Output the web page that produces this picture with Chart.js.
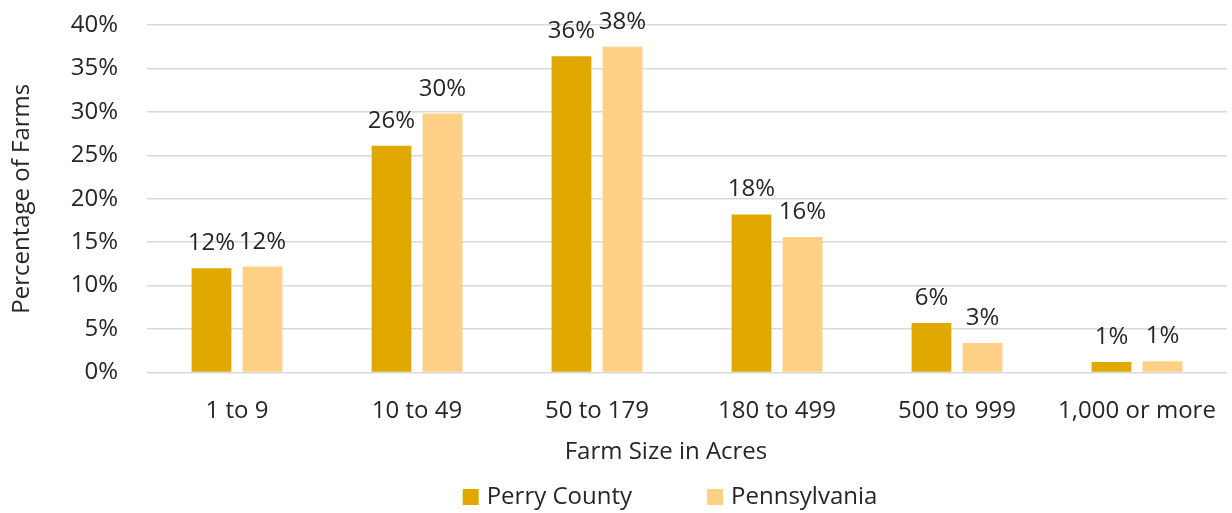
<!DOCTYPE html>
<html>
<head>
<meta charset="utf-8">
<script src="https://cdn.jsdelivr.net/npm/chart.js@4.4.0/dist/chart.umd.min.js"></script>
<style>
  html, body { margin: 0; padding: 0; background: #fff; }
  #wrap { width: 1232px; height: 513px; position: relative; }
</style>
</head>
<body>
<div id="wrap"><canvas id="farm_chart"></canvas></div>
<script>
var categories = ["1 to 9", "10 to 49", "50 to 179", "180 to 499", "500 to 999", "1,000 or more"];
var perryCounty = [12.0, 26.1, 36.4, 18.2, 5.7, 1.2];
var pennsylvania = [12.2, 29.8, 37.5, 15.6, 3.4, 1.3];
var seriesNames = ["Perry County", "Pennsylvania"];
var seriesColors = ["#E1A900", "#FED085"];
var xTitle = "Farm Size in Acres";
var yTitle = "Percentage of Farms";

var fontFamily = "'Open Sans', sans-serif";
var fontSize = 24;
var textColor = "#262626";

// percent labels above the bars
var barLabels = {
    id: "barLabels",
    afterDatasetsDraw: function (chart) {
        var ctx = chart.ctx;
        ctx.save();
        ctx.font = fontSize + "px " + fontFamily;
        ctx.fillStyle = textColor;
        ctx.textAlign = "center";
        ctx.textBaseline = "alphabetic";
        chart.data.datasets.forEach(function (ds, i) {
            chart.getDatasetMeta(i).data.forEach(function (bar, j) {
                ctx.fillText(Math.round(ds.data[j]) + "%", bar.x, bar.y - 18);
            });
        });
        ctx.restore();
    }
};

// x title + legend drawn below the axis (Excel puts them a bit left of plot center)
var bottomBlock = {
    id: "bottomBlock",
    afterDraw: function (chart) {
        var ctx = chart.ctx;
        ctx.save();
        ctx.font = fontSize + "px " + fontFamily;
        ctx.fillStyle = textColor;
        ctx.textAlign = "center";
        ctx.textBaseline = "middle";
        ctx.fillText(xTitle, 666, 452);

        var box = 16, gapText = 8, gapItem = 75;
        var widths = chart.data.datasets.map(function (ds) {
            return box + gapText + ctx.measureText(ds.label).width;
        });
        var total = widths.reduce(function (a, b) { return a + b; }, 0) + gapItem * (widths.length - 1);
        var x = 670 - total / 2;
        var y = 497;
        ctx.textAlign = "left";
        chart.data.datasets.forEach(function (ds, i) {
            ctx.fillStyle = ds.backgroundColor;
            ctx.fillRect(x, y - box / 2, box, box);
            ctx.fillStyle = textColor;
            ctx.fillText(ds.label, x + box + gapText, y);
            x += widths[i] + gapItem;
        });
        ctx.restore();
    }
};

var farmchart = new Chart("farm_chart", {
    type: "bar",
    data: {
        labels: categories,
        datasets: [
            {
                label: seriesNames[0],
                data: perryCounty,
                backgroundColor: seriesColors[0],
            },
            {
                label: seriesNames[1],
                data: pennsylvania,
                backgroundColor: seriesColors[1],
            },
        ],
    },
    options: {
        responsive: true,
        maintainAspectRatio: false,
        animation: false,
        layout: {
            padding: { top: 25, right: 5, left: 0, bottom: 0 },
        },
        plugins: {
            legend: { display: false },
            tooltip: { enabled: false },
        },
        datasets: {
            bar: {
                categoryPercentage: 0.567,
                barPercentage: 0.78,
            },
        },
        scales: {
            x: {
                grid: { display: false, drawTicks: false },
                border: { display: false },
                ticks: {
                    color: textColor,
                    font: { family: fontFamily, size: fontSize },
                    padding: 24,
                    maxRotation: 0,
                    autoSkip: false,
                },
                afterFit: function (scale) {
                    scale.height = 140.5;
                    // keep the plot edges fixed, labels may overhang
                    scale.paddingLeft = 0;
                    scale.paddingRight = 0;
                },
            },
            y: {
                min: 0,
                max: 40,
                grid: { color: "#D9D9D9", lineWidth: 1.5, drawTicks: false },
                border: { display: false },
                ticks: {
                    stepSize: 5,
                    color: textColor,
                    font: { family: fontFamily, size: fontSize },
                    padding: 29,
                    callback: function (v) { return v + "%"; },
                },
                title: {
                    display: true,
                    text: yTitle,
                    color: textColor,
                    font: { family: fontFamily, size: fontSize },
                    padding: { top: 8, bottom: 0 },
                },
                afterFit: function (scale) {
                    scale.width = 147;
                    scale.paddingTop = 0;
                    scale.paddingBottom = 0;
                },
            },
        },
    },
    plugins: [barLabels, bottomBlock],
});
</script>
</body>
</html>
